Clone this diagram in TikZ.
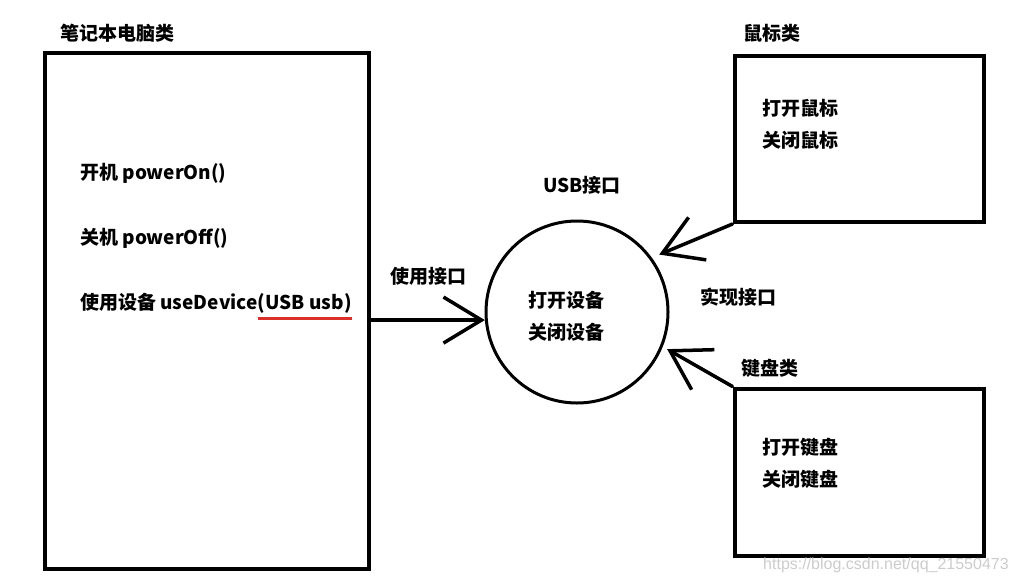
\documentclass[tikz,border=0pt]{standalone}
\usepackage{fontspec}
\setmainfont{Noto Sans CJK SC}
\newfontfamily\wmfont{Liberation Sans}
\usetikzlibrary{arrows.meta,positioning}

\begin{document}
\begin{tikzpicture}[x=1pt, y=-1pt,
        font=\fontsize{19}{23}\selectfont\bfseries,
        classbox/.style={draw=black, line width=4pt, inner sep=0pt},
        txt/.style={anchor=west, inner sep=0pt},
        link/.style={line width=3.5pt, line cap=round,
            -{Straight Barb[length=38pt, width=46pt]}}]
    \definecolor{markRed}{RGB}{218,48,40}
    \useasboundingbox (0,0) rectangle (1016,582);

    % Laptop class
    \node[classbox, minimum width=324pt, minimum height=516pt] (laptop) at (207,311) {};
    \node[txt] (laptopT) at (60,33) {笔记本电脑类};
    \node[txt] (powOn) at (80,173) {开机 powerOn()};
    \node[txt] (powOff) at (80,238) {关机 powerOff()};
    \node[txt] (useDev) at (80,302) {使用设备 useDevice};
    \node[anchor=base west, inner sep=0pt] (usbArg) at (useDev.base east) {(USB usb)};
    \draw[markRed, line width=3pt]
        ([yshift=-5pt]usbArg.south west) -- ([yshift=-5pt]usbArg.south east);

    % USB interface
    \node[circle, draw=black, line width=3pt, minimum size=182pt, inner sep=0pt] (usb) at (577,312) {};
    \node[txt] (usbT) at (543,185) {USB接口};
    \node[txt] (devOpen) at (528,300) {打开设备};
    \node[txt] (devClose) at (528,332) {关闭设备};

    % Mouse class
    \node[classbox, minimum width=249pt, minimum height=166pt] (mouse) at (859,139) {};
    \node[txt] (mouseT) at (743,33) {鼠标类};
    \node[txt] (mouseOpen) at (762,108) {打开鼠标};
    \node[txt] (mouseClose) at (762,140) {关闭鼠标};

    % Keyboard class
    \node[classbox, minimum width=249pt, minimum height=167pt] (keyb) at (859,472) {};
    \node[txt] (keybT) at (741,368) {键盘类};
    \node[txt] (keybOpen) at (762,447) {打开键盘};
    \node[txt] (keybClose) at (762,479) {关闭键盘};

    % Connectors
    \draw[link] (laptop.east |- usb.185) -- (usb.185);
    \node[txt] (useT) at (390,276) {使用接口};
    \draw[link, shorten >=8pt] (mouse.south west) -- (usb.36);
    \draw[link, shorten >=5pt] (keyb.north west) -- (usb.-22);
    \node[txt] (implT) at (700,297) {实现接口};

    % Watermark
    \node[txt, font=\wmfont\fontsize{16}{18}\selectfont, text=gray!40] (wm) at (763,565)
        {https://blog.csdn.net/qq\_21550473};
\end{tikzpicture}
\end{document}
